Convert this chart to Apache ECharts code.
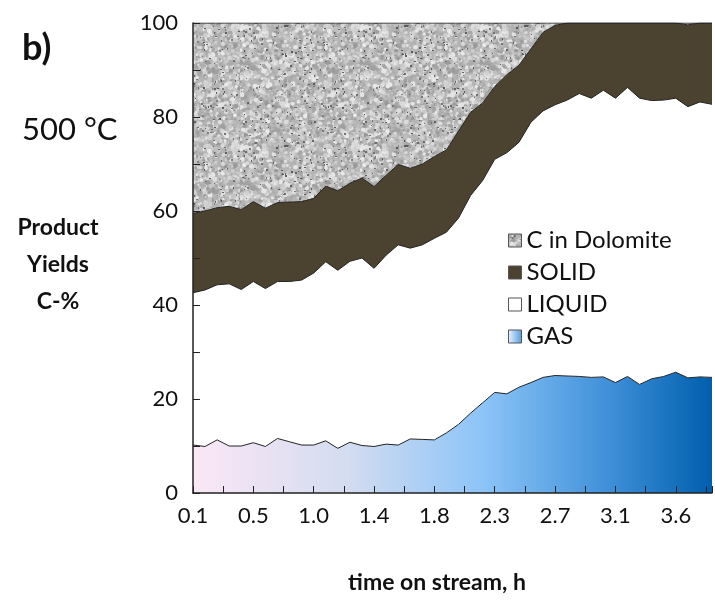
<!DOCTYPE html>
<html lang="en">
<head>
<meta charset="UTF-8">
<title>Product yields 500 °C</title>
<script src="https://cdn.jsdelivr.net/npm/echarts@6/dist/echarts.min.js"></script>
<style>html,body{margin:0;padding:0;background:#fff}</style>
</head>
<body>
<div id="chart" style="width:715px;height:600px"></div>
<script>
// time labels shown every 5th sample
var xLabels = ['0.1', '0.5', '1.0', '1.4', '1.8', '2.3', '2.7', '3.1', '3.6'];
// sample numbers along the run (44 samples)
var samples = [];
for (var k = 0; k < 44; k++) samples.push(String(k));

// product yields, C-% (stacked from bottom: gas, liquid, solid, C in dolomite)
var gas = [10.2, 9.9, 11.3, 10.0, 10.0, 10.7, 9.9, 11.6, 10.9, 10.2,
  10.2, 11.1, 9.5, 10.8, 10.1, 9.9, 10.4, 10.2, 11.5, 11.4,
  11.3, 12.8, 14.6, 17.0, 19.2, 21.4, 21.1, 22.5, 23.5, 24.6,
  25.0, 24.9, 24.8, 24.6, 24.7, 23.5, 24.8, 23.1, 24.3, 24.8,
  25.7, 24.5, 24.7, 24.6];
var liquid = [32.4, 33.3, 33.0, 34.5, 33.3, 34.3, 33.6, 33.4, 34.1, 35.1,
  36.6, 38.1, 37.9, 38.5, 39.9, 37.9, 40.2, 42.6, 40.6, 41.4,
  42.9, 42.7, 43.9, 46.3, 47.3, 49.6, 51.3, 52.1, 55.4, 56.7,
  57.6, 58.7, 60.2, 59.4, 61.0, 60.5, 61.5, 60.9, 59.2, 58.8,
  58.3, 57.7, 58.5, 58.1];
var solid = [16.9, 16.8, 16.4, 16.5, 17.0, 17.0, 17.1, 16.8, 16.9, 16.7,
  15.9, 16.1, 16.9, 16.6, 17.0, 17.4, 17.0, 17.1, 17.0, 17.2,
  17.4, 17.5, 18.5, 17.7, 16.5, 15.5, 16.6, 16.4, 15.6, 16.7,
  16.9, 16.4, 15.0, 16.0, 14.3, 16.0, 13.7, 16.0, 16.5, 16.4,
  16.0, 17.4, 16.8, 17.3];
var dolomite = [40.5, 40.0, 39.3, 39.0, 39.7, 38.0, 39.4, 38.2, 38.1, 38.0,
  37.3, 34.7, 35.7, 34.1, 33.0, 34.8, 32.4, 30.1, 30.9, 30.0,
  28.4, 27.0, 23.0, 19.0, 17.0, 13.5, 11.0, 9.0, 5.5, 2.0,
  0.5, 0, 0, 0, 0, 0, 0, 0, 0, 0,
  0, 0.4, 0, 0];

// grey mottled fill for the dolomite band
function speckle() {
  var c = document.createElement('canvas');
  c.width = c.height = 120;
  var ctx = c.getContext('2d');
  var seed = 11;
  function rnd() { seed = (seed * 16807) % 2147483647; return seed / 2147483647; }
  ctx.fillStyle = '#b4b4b4';
  ctx.fillRect(0, 0, 120, 120);
  for (var i = 0; i < 2600; i++) {
    var g = Math.round(150 + rnd() * 85);
    ctx.fillStyle = 'rgb(' + g + ',' + g + ',' + g + ')';
    ctx.beginPath();
    ctx.arc(rnd() * 120, rnd() * 120, 1 + rnd() * 1.6, 0, Math.PI * 2);
    ctx.fill();
  }
  for (var j = 0; j < 260; j++) {
    var d = Math.round(85 + rnd() * 50);
    ctx.fillStyle = 'rgb(' + d + ',' + d + ',' + d + ')';
    ctx.fillRect(Math.floor(rnd() * 120), Math.floor(rnd() * 120), 1 + Math.floor(rnd() * 2), 1 + Math.floor(rnd() * 2));
  }
  return c;
}
var dolPattern = { image: speckle(), repeat: 'repeat' };

var font = 'Lato';
var edge = { color: '#222', width: 1 };

var chart = echarts.init(document.getElementById('chart'));
chart.setOption({
  backgroundColor: '#fff',
  animation: false,
  grid: { left: 193, right: 0, top: 23, bottom: 107 },
  xAxis: [{
    // visible time axis: a tick every 2.5 samples, a label every 5
    type: 'value', min: 0, max: 43, interval: 2.5, position: 'bottom', z: 10,
    axisLine: { lineStyle: { color: '#222', width: 1.5 } },
    axisTick: { show: true, inside: true, length: 7, lineStyle: { color: '#222' } },
    splitLine: { show: false },
    axisLabel: {
      margin: 12, color: '#111', fontFamily: font, fontSize: 22,
      formatter: function (v) { return (v % 5 === 0 && xLabels[v / 5]) ? xLabels[v / 5] : ''; }
    }
  }, {
    // sample axis used by the series
    type: 'category', data: samples, boundaryGap: false, show: false
  }],
  yAxis: {
    type: 'value', min: 0, max: 100, interval: 10, z: 10,
    axisLine: { show: true, lineStyle: { color: '#222', width: 1.5 } },
    axisTick: { show: true, inside: true, length: 7, lineStyle: { color: '#222' } },
    splitLine: { show: false },
    axisLabel: {
      margin: 15, color: '#111', fontFamily: font, fontSize: 22,
      formatter: function (v) { return v % 20 === 0 ? v : ''; }
    }
  },
  legend: {
    orient: 'vertical', left: 503, top: 223,
    icon: 'rect', itemWidth: 13, itemHeight: 13, itemGap: 7,
    itemStyle: { borderColor: '#555', borderWidth: 1 },
    textStyle: { fontFamily: font, fontSize: 24, color: '#111', lineHeight: 25 },
    data: ['C in Dolomite', 'SOLID', 'LIQUID', 'GAS']
  },
  graphic: [
    { type: 'text', x: 22, y: 48, style: { text: 'b)', font: 'bold 36px ' + font, fill: '#111', verticalAlign: 'middle' } },
    { type: 'text', x: 22, y: 130, style: { text: '500 °C', font: '31px ' + font, fill: '#111', verticalAlign: 'middle' } },
    { type: 'text', x: 58, y: 228, style: { text: 'Product', font: 'bold 23px ' + font, fill: '#111', align: 'center', verticalAlign: 'middle' } },
    { type: 'text', x: 58, y: 265, style: { text: 'Yields', font: 'bold 23px ' + font, fill: '#111', align: 'center', verticalAlign: 'middle' } },
    { type: 'text', x: 58, y: 302, style: { text: 'C-%', font: 'bold 23px ' + font, fill: '#111', align: 'center', verticalAlign: 'middle' } },
    { type: 'text', x: 437, y: 583, style: { text: 'time on stream, h', font: 'bold 23px ' + font, fill: '#111', align: 'center', verticalAlign: 'middle' } }
  ],
  series: [
    {
      name: 'GAS', type: 'line', stack: 'y', xAxisIndex: 1, data: gas, showSymbol: false,
      lineStyle: edge,
      itemStyle: { color: new echarts.graphic.LinearGradient(0, 0, 1, 0, [
        { offset: 0, color: '#eef4fc' }, { offset: 1, color: '#4f9be0' }]) },
      areaStyle: { opacity: 1, color: new echarts.graphic.LinearGradient(0, 0, 1, 0, [
        { offset: 0, color: '#fbe7f6' },
        { offset: 0.3, color: '#d3dcf0' },
        { offset: 0.56, color: '#8cc4f8' },
        { offset: 0.8, color: '#3f90d8' },
        { offset: 1, color: '#005fae' }]) }
    },
    {
      name: 'LIQUID', type: 'line', stack: 'y', xAxisIndex: 1, data: liquid, showSymbol: false,
      lineStyle: edge, itemStyle: { color: '#fff' },
      areaStyle: { opacity: 1, color: '#fff' }
    },
    {
      name: 'SOLID', type: 'line', stack: 'y', xAxisIndex: 1, data: solid, showSymbol: false,
      lineStyle: edge, itemStyle: { color: '#4b432f' },
      areaStyle: { opacity: 1, color: '#4b432f' }
    },
    {
      name: 'C in Dolomite', type: 'line', stack: 'y', xAxisIndex: 1, data: dolomite, showSymbol: false,
      lineStyle: edge, itemStyle: { color: dolPattern },
      areaStyle: { opacity: 1, color: dolPattern }
    }
  ]
});
</script>
</body>
</html>
